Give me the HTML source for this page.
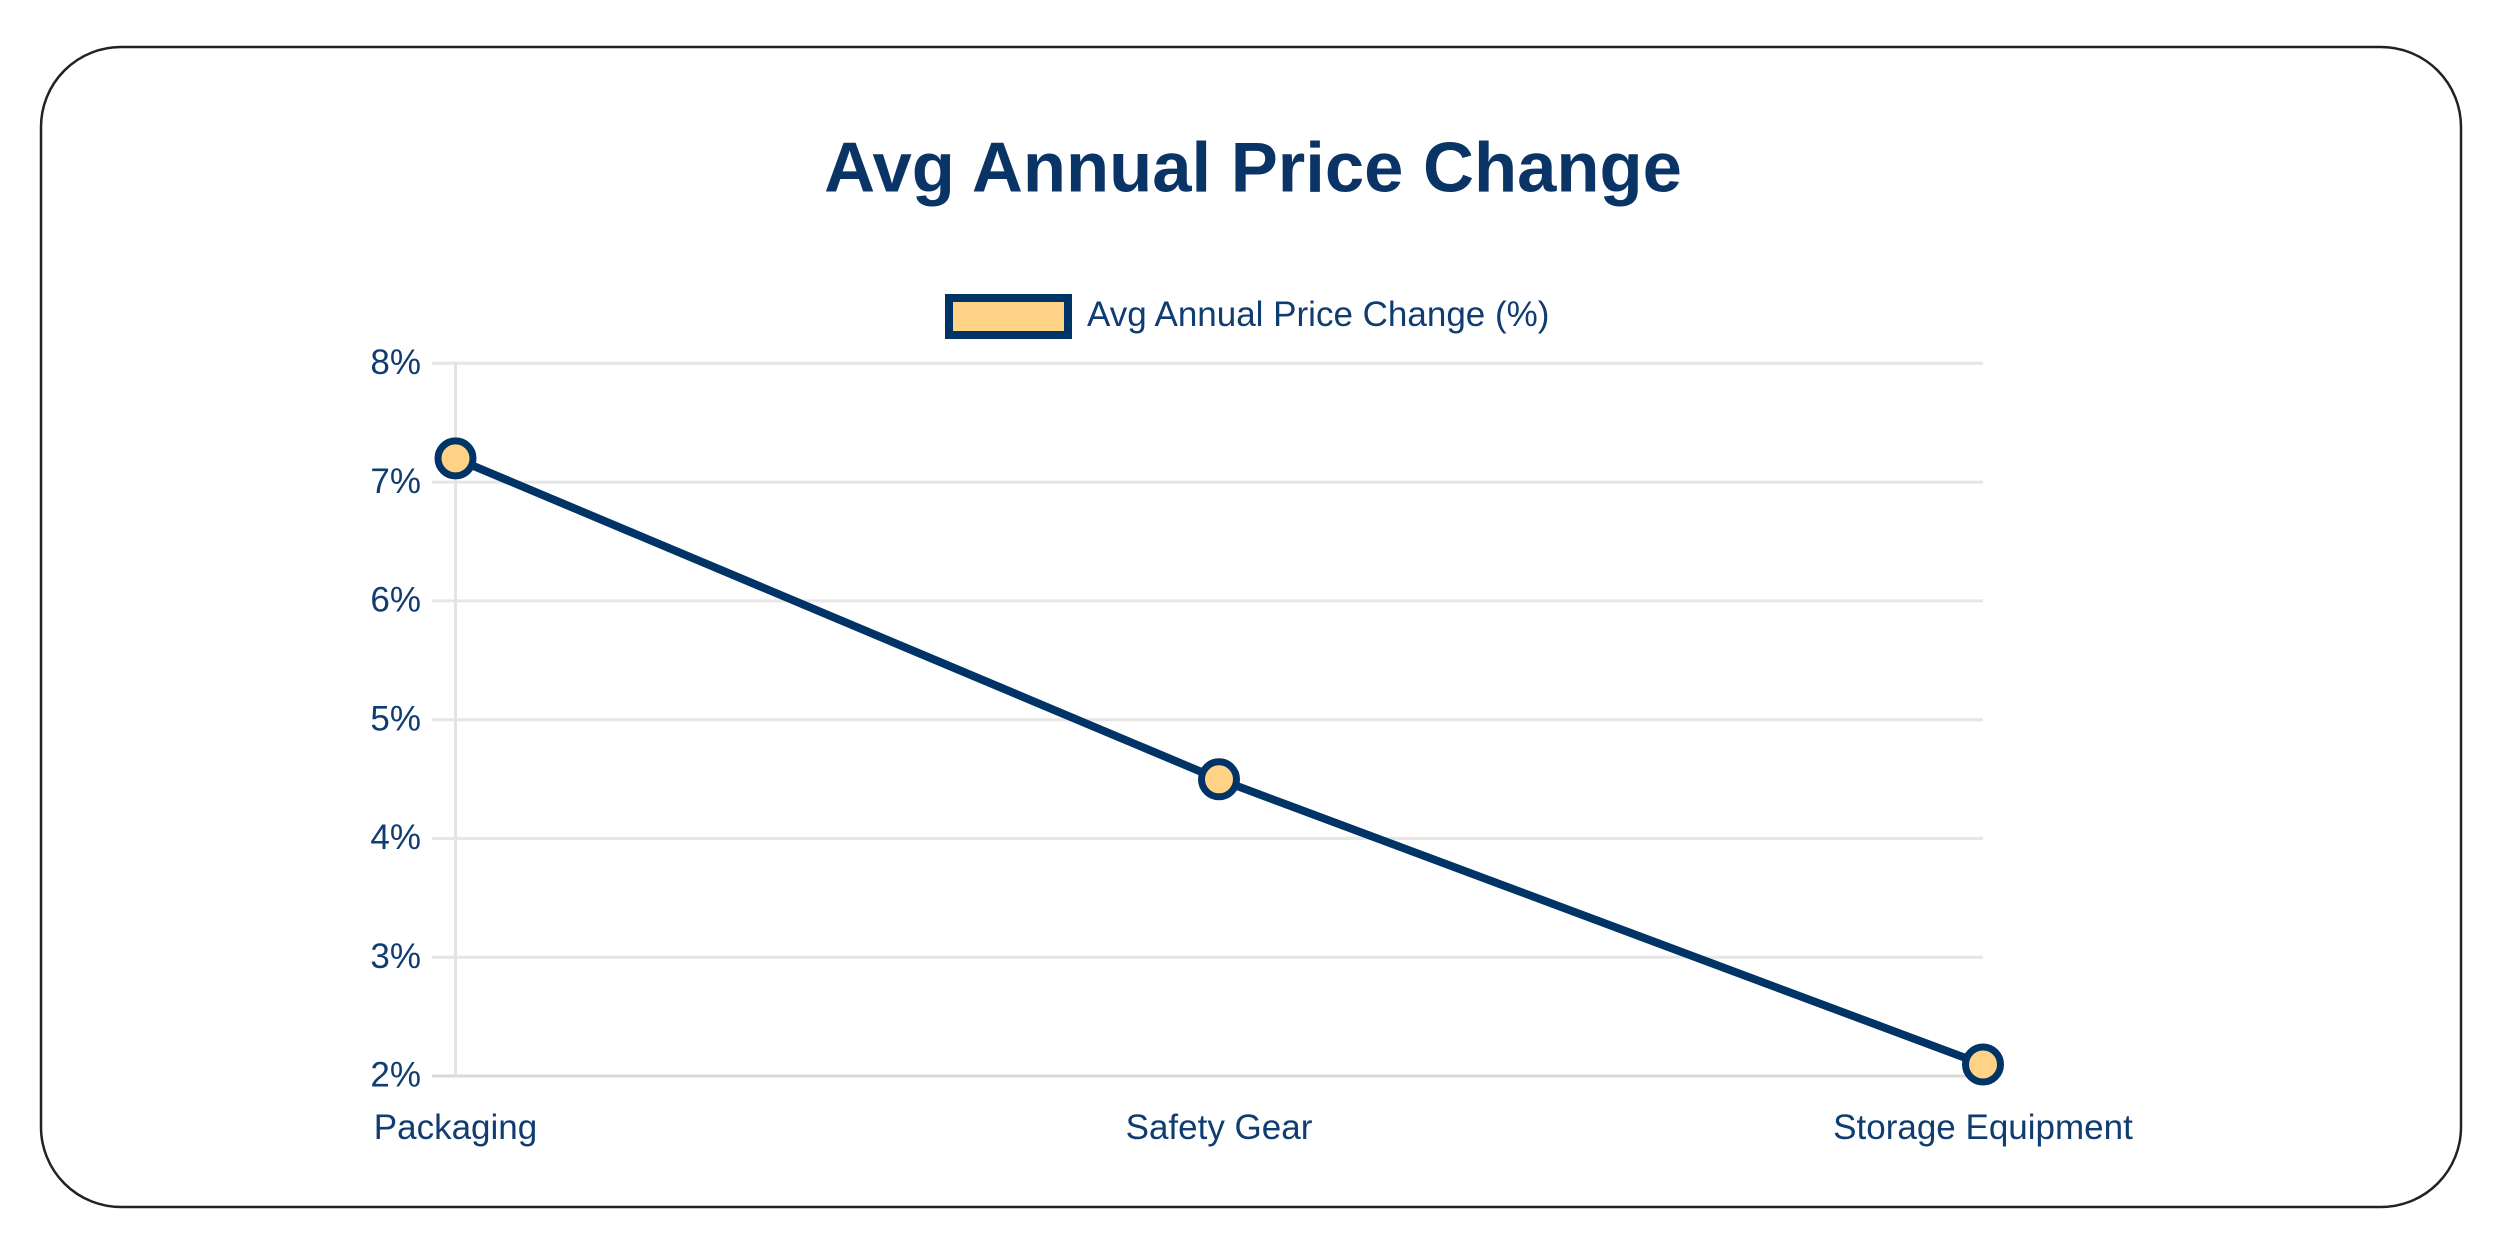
<!DOCTYPE html>
<html>
<head>
<meta charset="utf-8">
<style>
  html, body { margin: 0; padding: 0; background: #ffffff; }
  body { width: 2497px; height: 1240px; overflow: hidden; }
  svg { display: block; }
  text { font-family: "Liberation Sans", Arial, sans-serif; }
</style>
</head>
<body>
<svg width="2497" height="1240" viewBox="0 0 2497 1240" xmlns="http://www.w3.org/2000/svg">
  <rect x="0" y="0" width="2497" height="1240" fill="#ffffff"/>
  <!-- card -->
  <rect x="41" y="47" width="2420" height="1160" rx="80" ry="80" fill="#ffffff" stroke="#222222" stroke-width="2.5"/>

  <!-- title -->
  <text x="1253" y="191.5" font-size="70.6" font-weight="bold" fill="#0a3466" text-anchor="middle">Avg Annual Price Change</text>

  <!-- legend -->
  <rect x="949" y="298" width="119" height="37" fill="#ffd285" stroke="#003366" stroke-width="8"/>
  <text x="1087" y="326" font-size="35" fill="#0f3d72">Avg Annual Price Change (%)</text>

  <!-- gridlines -->
  <g stroke="#e6e6e6" stroke-width="3">
    <line x1="432" y1="363.3" x2="1983" y2="363.3"/>
    <line x1="432" y1="482.1" x2="1983" y2="482.1"/>
    <line x1="432" y1="600.9" x2="1983" y2="600.9"/>
    <line x1="432" y1="719.7" x2="1983" y2="719.7"/>
    <line x1="432" y1="838.5" x2="1983" y2="838.5"/>
    <line x1="432" y1="957.3" x2="1983" y2="957.3"/>
  </g>
  <line x1="432" y1="1076" x2="1983" y2="1076" stroke="#d9d9d9" stroke-width="3"/>
  <line x1="455.5" y1="362" x2="455.5" y2="1076" stroke="#e3e3e3" stroke-width="3"/>

  <!-- y tick labels -->
  <g font-size="35" fill="#0f3d72" text-anchor="end">
    <text x="421" y="374">8%</text>
    <text x="421" y="492.8">7%</text>
    <text x="421" y="611.6">6%</text>
    <text x="421" y="730.4">5%</text>
    <text x="421" y="849.2">4%</text>
    <text x="421" y="968">3%</text>
    <text x="421" y="1086.7">2%</text>
  </g>

  <!-- x labels -->
  <g font-size="35" fill="#0f3d72" text-anchor="middle">
    <text x="455.5" y="1139">Packaging</text>
    <text x="1219" y="1139">Safety Gear</text>
    <text x="1983" y="1139">Storage Equipment</text>
  </g>

  <!-- series line -->
  <polyline points="455.5,458.4 1219,779.3 1983,1064.5" fill="none" stroke="#003366" stroke-width="8" stroke-linejoin="round"/>

  <!-- points -->
  <g fill="#ffd285" stroke="#003366" stroke-width="7">
    <circle cx="455.5" cy="458.4" r="17.5"/>
    <circle cx="1219" cy="779.3" r="17.5"/>
    <circle cx="1983" cy="1064.5" r="17.5"/>
  </g>
</svg>
</body>
</html>
